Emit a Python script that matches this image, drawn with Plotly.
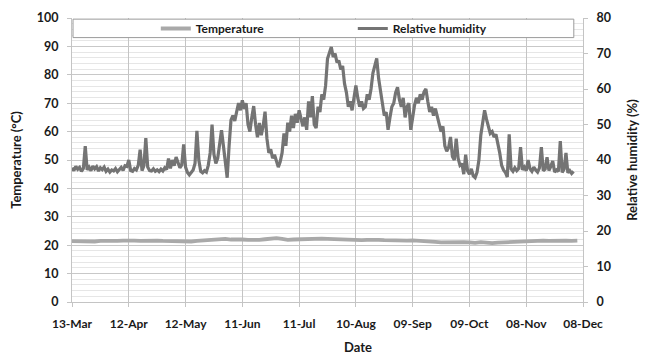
import pandas as pd
import plotly.graph_objects as go

# ---- data ----
start_date = "2013-03-13"
end_date = "2013-12-08"
tick_every_days = 30

# daily relative humidity (%), from 13-Mar
humidity = [
    37.8, 37.0, 38.2, 37.4, 37.9, 36.8, 37.6, 43.9, 37.2, 38.0,
    37.0, 38.3, 37.5, 38.1, 36.9, 37.8, 37.3, 38.0, 36.8, 37.4,
    36.6, 37.2, 36.9, 37.6, 36.7, 37.3, 37.9, 37.1, 38.4, 38.2,
    40.0, 37.0, 36.8, 37.6, 37.2, 38.5, 42.9, 37.0, 38.4, 46.2,
    38.0, 37.0, 36.9, 37.5, 36.8, 37.2, 36.7, 37.4, 36.9, 37.8,
    37.3, 40.4, 37.6, 40.0, 38.4, 40.8, 39.0, 37.8, 38.6, 44.4,
    38.0, 36.5, 35.8, 36.6, 37.2, 39.0, 48.2, 40.0, 36.8, 36.4,
    37.0, 36.6, 38.5, 42.0, 50.0, 41.6, 39.0, 40.5, 44.0, 48.4,
    44.0, 40.0, 35.0, 44.0, 51.2, 52.5, 51.0, 53.6, 56.0, 54.0,
    56.8, 54.4, 56.0, 50.0, 48.0, 52.0, 55.2, 50.0, 46.4, 50.4,
    47.0, 49.6, 53.6, 46.0, 42.0, 43.0, 40.5, 41.5, 39.5, 38.0,
    39.5, 42.0, 47.5, 44.0, 50.5, 48.0, 52.5, 49.0, 53.0, 50.5,
    54.0, 51.5, 49.5, 52.0, 48.5, 56.5, 52.0, 58.0, 50.0, 49.0,
    55.0, 53.5, 58.5, 57.0, 61.0, 68.5, 70.5, 71.8, 69.0, 70.0,
    67.5, 68.0, 65.5, 66.5, 61.5, 59.0, 55.0, 56.5, 54.0, 58.0,
    61.0, 57.5, 55.0, 56.5, 54.5, 55.0, 58.5, 57.0, 60.0, 64.5,
    67.0, 68.6, 63.0, 59.0, 55.0, 52.5, 53.5, 48.5, 52.0, 55.0,
    56.0, 59.0, 60.5, 57.0, 55.0, 57.5, 52.0, 55.0, 56.0, 48.5,
    52.0, 55.5, 57.5, 56.0, 58.5, 57.0, 59.2, 60.0, 56.5, 53.5,
    55.0, 52.5, 54.5, 52.0, 50.0, 48.0, 49.5, 44.0, 42.5, 43.5,
    46.5, 41.0, 40.0, 46.0, 40.5, 38.5, 39.0, 36.0, 41.5, 37.0,
    36.0, 37.5, 35.5, 35.0, 36.5, 40.0, 47.0, 50.5, 54.0, 51.5,
    49.0, 47.5, 48.0, 46.5, 47.2, 45.0, 42.0, 38.5, 37.2, 36.5,
    35.2, 47.2, 37.5, 36.8, 37.8, 37.0, 37.6, 43.6, 37.2, 38.0,
    37.0, 40.0, 37.5, 36.8, 38.0, 37.2, 36.6, 37.8, 43.6, 37.0,
    37.4, 40.8, 37.0, 38.2, 39.7, 36.6, 37.2, 36.8, 45.3, 36.5,
    37.4, 42.0, 36.4, 37.0, 36.2, 36.8,
]

# temperature (°C), every 3 days from 13-Mar
temperature = [
    21.4, 21.3, 21.5, 21.4, 21.3, 21.5, 21.4, 21.6, 21.5, 21.6,
    21.7, 21.6, 21.5, 21.6, 21.5, 21.6, 21.5, 21.4, 21.3, 21.2,
    21.1, 21.3, 21.5, 21.7, 21.8, 22.0, 22.3, 22.2, 22.0, 22.1,
    22.0, 21.9, 21.8, 21.9, 22.1, 22.3, 22.5, 22.2, 21.9, 22.0,
    22.1, 22.0, 22.1, 22.2, 22.3, 22.2, 22.1, 22.2, 22.0, 22.0,
    21.9, 21.8, 21.9, 22.0, 21.9, 21.8, 21.7, 21.8, 21.7, 21.6,
    21.7, 21.6, 21.7, 21.5, 21.2, 21.0, 21.1, 21.0, 21.0, 21.1,
    21.0, 20.8, 21.1, 20.9, 20.7, 20.9, 21.0, 21.2, 21.3, 21.4,
    21.5, 21.4, 21.5, 21.6, 21.5, 21.6, 21.5, 21.6, 21.5, 21.6,
]

hum_dates = pd.date_range(start_date, periods=len(humidity), freq="D")
temp_dates = pd.date_range(start_date, periods=len(temperature), freq="3D")

FONT = "Lato"
TXT = "#1a1a1a"

fig = go.Figure()
fig.add_trace(go.Scatter(
    x=temp_dates, y=temperature, name="Temperature", mode="lines",
    line=dict(color="#a9a9a9", width=3.8), yaxis="y",
))
fig.add_trace(go.Scatter(
    x=hum_dates, y=humidity, name="Relative humidity", mode="lines",
    line=dict(color="#747474", width=3.2), yaxis="y2",
))

# legend frame
fig.add_shape(type="rect", xref="paper", yref="paper",
              x0=0.002, x1=0.982, y0=0.931, y1=0.996,
              line=dict(color="#9a9a9a", width=1), fillcolor="white", layer="above")

fig.update_layout(
    width=647, height=360,
    margin=dict(l=72, r=63, t=10, b=58),
    paper_bgcolor="white", plot_bgcolor="white",
    font=dict(family=FONT, color=TXT, size=12),
    showlegend=True,
    legend=dict(
        orientation="h", x=0.164, xanchor="left", y=0.963, yanchor="middle",
        bgcolor="rgba(0,0,0,0)", borderwidth=0,
        font=dict(family=FONT, size=12, color=TXT, weight="bold"),
        entrywidth=152, entrywidthmode="pixels", itemwidth=30,
    ),
    xaxis=dict(
        type="date", range=[start_date, end_date],
        tick0=start_date, dtick=tick_every_days * 86400000,
        tickformat="%d-%b",
        showgrid=True, gridcolor="#c4c4c4", gridwidth=1,
        showline=True, linecolor="#c4c4c4",
        ticks="outside", ticklen=4, tickcolor="#c4c4c4",
        ticklabelstandoff=7,
        tickfont=dict(family=FONT, size=12, color=TXT, weight="bold"),
        zeroline=False,
    ),
    yaxis=dict(
        range=[0, 100], dtick=10,
        showgrid=True, gridcolor="#c8c8c8", gridwidth=1,
        minor=dict(dtick=2, showgrid=True, gridcolor="#e6e6e6"),
        showline=True, linecolor="#c4c4c4",
        ticks="outside", ticklen=4, tickcolor="#c4c4c4",
        ticklabelstandoff=6,
        tickfont=dict(family=FONT, size=12.5, color=TXT, weight="bold"),
        title=dict(text="Temperature (°C)", standoff=12,
                   font=dict(family=FONT, size=13, color=TXT, weight="bold")),
        zeroline=False,
    ),
    yaxis2=dict(
        range=[0, 80], dtick=10, overlaying="y", side="right",
        showgrid=False, showline=True, linecolor="#c4c4c4",
        ticks="outside", ticklen=4, tickcolor="#c4c4c4",
        ticklabelstandoff=6,
        tickfont=dict(family=FONT, size=12.5, color=TXT, weight="bold"),
        title=dict(text="Relative humidity (%)", standoff=17,
                   font=dict(family=FONT, size=13, color=TXT, weight="bold")),
        zeroline=False,
    ),
    annotations=[dict(
        text="Date", xref="paper", yref="paper", x=0.56, y=-0.157,
        xanchor="center", yanchor="middle", showarrow=False,
        font=dict(family=FONT, size=13, color=TXT, weight="bold"),
    )],
)

fig.write_html("out.html")
